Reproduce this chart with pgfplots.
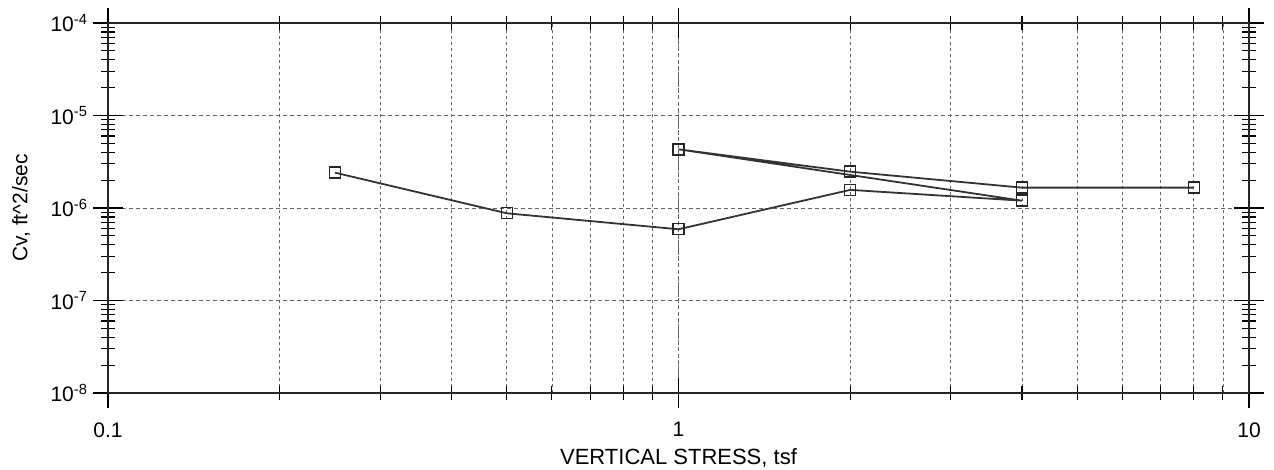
\documentclass[border=0pt]{standalone}
\usepackage{pgfplots}
\pgfplotsset{compat=1.18}
\usepackage{fontspec}
\setmainfont{Liberation Sans}
\begin{document}
\fontsize{19}{22}\selectfont
\begin{tikzpicture}
\path[use as bounding box] (-108pt,-77pt) rectangle (1166pt,393pt);
\begin{axis}[
  scale only axis,
  width=1141pt, height=370pt,
  xmode=log, ymode=log,
  xmin=0.1, xmax=10, ymin=1e-8, ymax=1e-4,
  xtick={0.1,1,10}, xticklabels={0.1,1,10},
  ytick={1e-8,1e-7,1e-6,1e-5,1e-4},
  yticklabels={10\textsuperscript{-8},10\textsuperscript{-7},10\textsuperscript{-6},10\textsuperscript{-5},10\textsuperscript{-4}},
  minor x tick num=8, minor y tick num=8,
  tick align=center,
  major tick length=30pt, minor tick length=14pt,
  tick style={black, line width=1.1pt},
  axis line style={black!85, line width=1.5pt},
  xmajorgrids, xminorgrids, ymajorgrids,
  major grid style={black!60, line width=0.7pt, dash pattern=on 4pt off 3pt},
  minor grid style={black!60, line width=0.7pt, dash pattern=on 3pt off 3pt},
  xticklabel style={font=\fontsize{21}{22}\selectfont, yshift=-8pt},
  yticklabel style={font=\fontsize{21}{22}\selectfont, xshift=1pt},
  xlabel={VERTICAL STRESS, tsf},
  ylabel={Cv, ft\textasciicircum 2/sec},
  xlabel style={font=\fontsize{22}{22}\selectfont, at={(axis description cs:0.5,-0.1757)}, anchor=center},
  ylabel style={font=\fontsize{21}{22}\selectfont, at={(axis description cs:-0.0762,0.5)}, anchor=center},
  clip=false,
]
\addplot[black!80, line width=1.8pt, mark=square, mark size=5.5pt, mark options={solid, line width=1.4pt, black!85}] coordinates {
  (0.25,2.41e-6)
  (0.5,8.77e-7)
  (1,5.89e-7)
  (2,1.57e-6)
  (4,1.20e-6)
  (1,4.31e-6)
  (2,2.47e-6)
  (4,1.66e-6)
  (8,1.66e-6)
};
\end{axis}
\end{tikzpicture}
\end{document}
